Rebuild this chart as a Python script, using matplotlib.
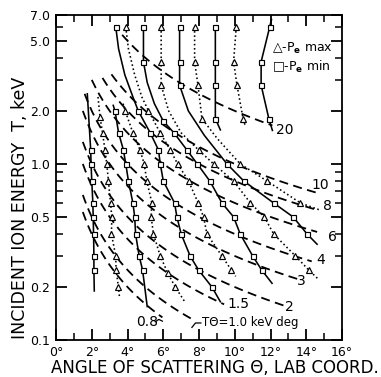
import numpy as np
import matplotlib.pyplot as plt
from matplotlib.ticker import FixedLocator, NullFormatter

# constant T*theta lines (keV deg)
tt_values = [0.8, 1.0, 1.5, 2, 3, 4, 6, 8, 10, 20]
tt_start = [1.5, 1.5, 1.5, 1.5, 1.5, 1.6, 2.0, 2.6, 3.1, 3.7]
tt_end = [5.95, 7.6, 9.4, 12.9, 13.5, 14.3, 14.6, 14.7, 14.6, 12.1]

# Pe min curves (squares, solid) and Pe max curves (triangles, dotted)
# marker mask: 1 = point carries a marker, 0 = line only
l1_theta = [1.75, 1.94, 1.96, 2.0, 2.06, 2.08, 2.1, 2.12, 2.12, 2.14]
l1_T = [2.5, 1.2, 1.0, 0.8, 0.6, 0.5, 0.4, 0.3, 0.25, 0.19]
l1_mask = "0111111110"

l2_theta = [2.35, 2.46, 2.6, 2.74, 2.84, 2.93, 3.05, 3.12, 3.1, 3.34, 3.36, 3.49, 3.55]
l2_T = [2.4, 1.85, 1.5, 1.2, 1.0, 0.8, 0.6, 0.5, 0.4, 0.3, 0.25, 0.2, 0.175]
l2_mask = "0111111111110"

l3_theta = [3.2, 3.3, 3.5, 3.77, 3.9, 4.05, 4.3, 4.4, 4.45, 4.65, 4.84, 5.1]
l3_T = [2.15, 2.0, 1.5, 1.2, 1.0, 0.8, 0.6, 0.5, 0.4, 0.3, 0.25, 0.155]
l3_mask = "011111111110"

l4_theta = [3.75, 3.87, 4.3, 4.7, 4.93, 5.08, 5.36, 5.32, 5.45, 5.83, 6.25, 6.67, 7.2]
l4_T = [2.2, 2.0, 1.5, 1.2, 1.0, 0.8, 0.6, 0.5, 0.4, 0.3, 0.24, 0.2, 0.165]
l4_mask = "0111111111110"

u1_theta = [3.34, 3.5, 3.85, 4.3, 4.6, 5.27, 5.73, 5.83, 6.0, 6.63, 6.76, 7.0, 7.5, 7.97, 8.72, 9.19]
u1_T = [6.0, 4.5, 3.2, 2.4, 2.0, 1.5, 1.2, 1.0, 0.8, 0.6, 0.5, 0.4, 0.3, 0.25, 0.2, 0.165]
u1_mask = "1000111111111110"

u2_theta = [3.9, 4.05, 4.4, 4.8, 5.17, 5.83, 6.39, 6.8, 7.41, 7.95, 8.25, 8.44, 9.28, 9.8, 10.05]
u2_T = [6.0, 4.5, 3.2, 2.4, 2.0, 1.5, 1.2, 1.0, 0.8, 0.6, 0.5, 0.4, 0.3, 0.25, 0.23]
u2_mask = "100011111111110"

u3_theta = [4.89, 4.89, 5.1, 5.5, 6.0, 6.6, 7.32, 7.9, 8.6, 9.28, 9.93, 10.3, 11.0, 11.5, 12.08]
u3_T = [6.0, 3.8, 2.9, 2.2, 1.75, 1.5, 1.2, 1.0, 0.8, 0.6, 0.5, 0.4, 0.3, 0.25, 0.21]
u3_mask = "110011111111110"

u4_theta = [5.88, 5.88, 5.88, 6.3, 7.0, 7.97, 8.81, 9.93, 10.87, 11.65, 12.17, 13.39, 14.13, 14.7]
u4_T = [6.0, 3.8, 2.8, 2.0, 1.5, 1.2, 1.0, 0.8, 0.6, 0.5, 0.4, 0.3, 0.25, 0.22]
u4_mask = "11100111111110"

u5_theta = [6.91, 6.91, 6.91, 7.4, 8.3, 9.56, 10.5, 12.17, 13.26, 14.04, 14.6]
u5_T = [6.0, 3.8, 2.8, 2.0, 1.45, 1.0, 0.8, 0.6, 0.5, 0.4, 0.35]
u5_mask = "11100111110"

u6_theta = [7.75, 7.75, 7.94, 8.16, 9.0, 10.3, 11.8, 13.67, 14.7]
u6_T = [6.0, 3.8, 2.8, 1.81, 1.4, 1.0, 0.8, 0.6, 0.55]
u6_mask = "111101110"

u7_theta = [8.91, 8.91, 8.91, 8.91, 9.19]
u7_T = [6.0, 3.8, 2.8, 1.81, 1.56]
u7_mask = "11110"

u8_theta = [10.08, 9.93, 10.12, 10.46, 10.6]
u8_T = [6.0, 3.8, 2.8, 1.81, 1.62]
u8_mask = "11110"

u9_theta = [12.05, 11.95, 11.47, 11.47, 11.9, 12.1]
u9_T = [6.6, 6.0, 3.8, 2.8, 1.81, 1.55]
u9_mask = "011110"

pe_min = [(l1_theta, l1_T, l1_mask), (l3_theta, l3_T, l3_mask),
          (u1_theta, u1_T, u1_mask), (u3_theta, u3_T, u3_mask),
          (u5_theta, u5_T, u5_mask), (u7_theta, u7_T, u7_mask),
          (u9_theta, u9_T, u9_mask)]
pe_max = [(l2_theta, l2_T, l2_mask), (l4_theta, l4_T, l4_mask),
          (u2_theta, u2_T, u2_mask), (u4_theta, u4_T, u4_mask),
          (u6_theta, u6_T, u6_mask), (u8_theta, u8_T, u8_mask)]

fig = plt.figure(figsize=(3.81, 3.77), dpi=100)
ax = fig.add_axes([0.147, 0.098, 0.751, 0.862])

for c, t0, t1 in zip(tt_values, tt_start, tt_end):
    th = np.linspace(t0, t1, 60)
    ax.plot(th, c / th, color='black', lw=1.3, dashes=(5, 3))

def draw(curves, ls, marker, ms):
    for th, T, mask in curves:
        ax.plot(th, T, color='black', ls=ls, lw=1.15)
        mth = [t for t, m in zip(th, mask) if m == '1']
        mT = [v for v, m in zip(T, mask) if m == '1']
        ax.plot(mth, mT, ls='none', marker=marker, ms=ms, mfc='white',
                mec='black', mew=0.85)

draw(pe_min, '-', 's', 3.6)
draw(pe_max, ':', '^', 4.3)

ax.set_yscale('log')
ax.set_xlim(0, 16)
ax.set_ylim(0.1, 7.0)

ax.xaxis.set_major_locator(FixedLocator(range(0, 17, 2)))
ax.xaxis.set_minor_locator(FixedLocator(range(1, 16, 2)))
ax.set_xticklabels([f'{d}°' for d in range(0, 17, 2)])
ax.yaxis.set_major_locator(FixedLocator([0.1, 0.2, 0.5, 1.0, 2.0, 5.0, 7.0]))
ax.yaxis.set_minor_locator(FixedLocator([0.3, 0.4, 0.6, 0.7, 0.8, 0.9, 3, 4, 6]))
ax.yaxis.set_minor_formatter(NullFormatter())
ax.set_yticklabels(['0.1', '0.2', '0.5', '1.0', '2.0', '5.0', '7.0'])
ax.tick_params(which='major', direction='in', length=8, width=1.3,
               top=True, right=True, labelsize=9, pad=4)
ax.tick_params(which='minor', direction='in', length=5, width=1.1,
               top=True, right=True)
for s in ax.spines.values():
    s.set_linewidth(1.3)

fig.text(215 / 381, 1 - 368 / 377, 'ANGLE OF SCATTERING Θ, LAB COORD.',
         fontsize=12, ha='center', va='center')
fig.text(20 / 381, 1 - 208 / 377, 'INCIDENT ION ENERGY  T, keV',
         fontsize=12.5, ha='center', va='center', rotation=90)

# line labels
lab_fs = 10
ax.text(12.8, 1.55, '20', fontsize=lab_fs, va='center', ha='center')
ax.text(14.75, 0.76, '10', fontsize=lab_fs, va='center', ha='center')
ax.text(15.2, 0.58, '8', fontsize=lab_fs, va='center', ha='center')
ax.text(15.45, 0.385, '6', fontsize=lab_fs, va='center', ha='center')
ax.text(14.8, 0.285, '4', fontsize=lab_fs, va='center', ha='center')
ax.text(13.7, 0.216, '3', fontsize=lab_fs, va='center', ha='center')
ax.text(13.05, 0.154, '2', fontsize=lab_fs, va='center', ha='center')
ax.text(10.2, 0.16, '1.5', fontsize=lab_fs, va='center', ha='center')
ax.text(5.1, 0.126, '0.8', fontsize=lab_fs, va='center', ha='center')
ax.plot([5.55, 5.75, 5.95], [0.127, 0.131, 0.128], color='black', lw=0.9)
ax.text(8.15, 0.125, 'TΘ=1.0 keV deg', fontsize=8.5, va='center', ha='left')
ax.plot([7.6, 7.8, 8.1], [0.118, 0.125, 0.125], color='black', lw=0.9)

ax.text(0.755, 0.898, '△-P$_{\\mathbf{e}}$ max', transform=ax.transAxes,
        fontsize=9, va='center', ha='left')
ax.text(0.755, 0.84, '□-P$_{\\mathbf{e}}$ min', transform=ax.transAxes,
        fontsize=9, va='center', ha='left')

fig.savefig('out.png', dpi=100)
